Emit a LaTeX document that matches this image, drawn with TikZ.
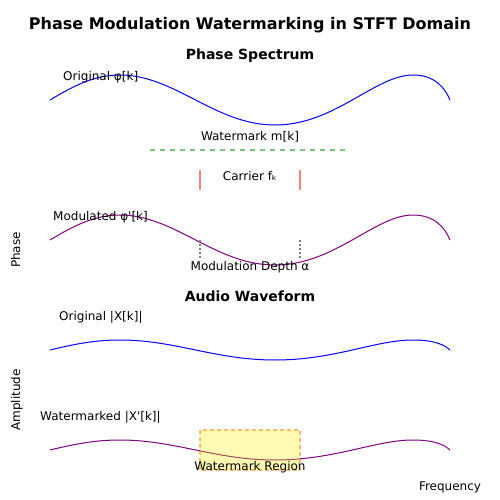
\documentclass[tikz,border=0pt]{standalone}
\usepackage{fontspec}
\setmainfont{DejaVu Sans}[Ligatures=TeXOff]
\definecolor{wblue}{RGB}{0,0,255}
\definecolor{wpurple}{RGB}{128,0,128}
\definecolor{wgreen}{RGB}{128,192,128}
\definecolor{wred}{RGB}{255,128,128}
\definecolor{wgray}{RGB}{128,128,128}
\begin{document}
\begin{tikzpicture}[x=1pt,y=-1pt,
  lbl/.style={inner sep=0pt,font=\fontsize{12}{14}\selectfont},
  ttl/.style={inner sep=0pt,font=\fontsize{16}{18}\selectfont\bfseries},
  sub/.style={inner sep=0pt,font=\fontsize{14}{16}\selectfont\bfseries},
  wave/.style={line width=1pt},
  wavepath/.pic={\draw[pic actions] (50,0) .. controls (75,-15) and (95,-25) .. (120,-25) .. controls (175,-25) and (215,25) .. (275,25) .. controls (335,25) and (375,-25) .. (413,-25) .. controls (435,-25) and (445,-12) .. (450,0);}
]
\useasboundingbox (0,0) rectangle (500,500);
% titles
\node[ttl,anchor=base] (title) at (250,30) {Phase Modulation Watermarking in STFT Domain};
\node[sub,anchor=base] (phs) at (250,60) {Phase Spectrum};
\node[sub,anchor=base] (aud) at (250,301) {Audio Waveform};
% phase spectrum curves
\pic[draw=wblue,wave] at (0,100) {wavepath};
\pic[draw=wpurple,wave] at (0,240) {wavepath};
\node[lbl,anchor=base west] (orig) at (63,81) {Original φ[k]};
\node[lbl,anchor=base west] (mod) at (53,220) {Modulated φ'[k]};
% watermark
\coordinate (wm1) at (150,150);
\coordinate (wm2) at (345,150);
\draw[wgreen,line width=2pt,dash pattern=on 5pt off 5pt] (wm1) -- (wm2);
\node[lbl,anchor=base] (wmlbl) at (250,140) {Watermark m[k]};
% carrier
\coordinate (c1a) at (200,170); \coordinate (c1b) at (200,190);
\coordinate (c2a) at (300,170); \coordinate (c2b) at (300,190);
\draw[wred,line width=2pt] (c1a) -- (c1b);
\draw[wred,line width=2pt] (c2a) -- (c2b);
\node[lbl,anchor=base] (car) at (250,180) {Carrier fₖ};
% modulation depth
\coordinate (d1a) at (200,240); \coordinate (d1b) at (200,260);
\coordinate (d2a) at (300,240); \coordinate (d2b) at (300,260);
\draw[wgray,line width=1.5pt,dash pattern=on 2pt off 2pt] (d1a) -- (d1b);
\draw[wgray,line width=1.5pt,dash pattern=on 2pt off 2pt] (d2a) -- (d2b);
\node[lbl,anchor=base] (depth) at (250,270) {Modulation Depth α};
% axis labels
\node[lbl,anchor=base,rotate=90] (phase) at (20,250) {Phase};
\node[lbl,anchor=base,rotate=90] (ampl) at (20,400) {Amplitude};
\node[lbl,anchor=base] (freq) at (450,490) {Frequency};
% audio waveform
\pic[draw=wblue,wave,yscale=0.4] at (0,350) {wavepath};
\node[lbl,anchor=base west] (origx) at (59,320) {Original |X[k]|};
\pic[draw=wpurple,wave,yscale=0.4] at (0,450) {wavepath};
\node[lbl,anchor=base west] (wmx) at (40,420) {Watermarked |X'[k]|};
\path[fill=yellow,fill opacity=0.3,draw=orange,draw opacity=0.55,line width=1.5pt,dash pattern=on 4pt off 3pt] (200,430) rectangle (300,470);
\node[lbl,anchor=base] (reg) at (250,470) {Watermark Region};
\end{tikzpicture}
\end{document}
